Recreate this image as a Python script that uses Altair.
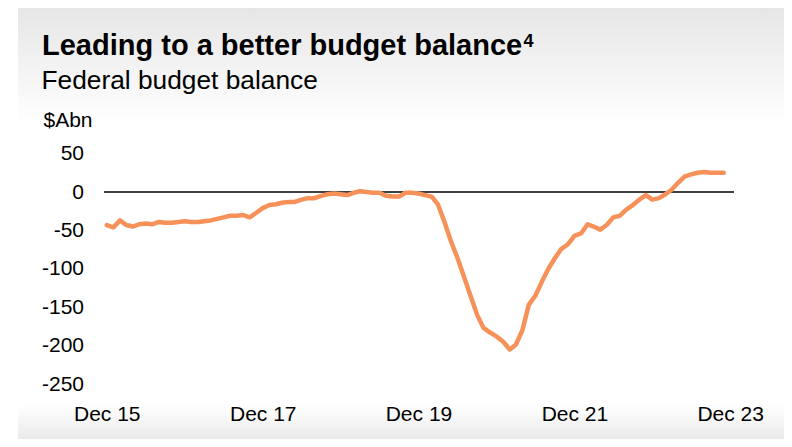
import altair as alt
import pandas as pd

# Federal budget balance, $A bn, monthly from Dec 2015 to Nov 2023
start_month = "2015-12-01"
balance = [
    -43, -46, -37, -43, -45, -42, -41, -42, -39, -40, -40, -39,
    -38, -39, -39, -38, -37, -35, -33, -31, -31, -30, -33, -27,
    -21, -17, -16, -14, -13, -13, -10, -8, -8, -5, -3, -2,
    -3, -4, -1, 1, 0, -1, -1, -5, -6, -6, -1, -1,
    -2, -4, -6, -16, -39, -64, -86, -110, -135, -160, -177, -183,
    -188, -195, -205, -199, -180, -147, -135, -117, -100, -86, -74, -68,
    -57, -54, -42, -45, -49, -43, -33, -31, -23, -17, -10, -4,
    -10, -8, -3, 3, 12, 20, 23, 25, 26, 25, 25, 25,
]
y_ticks = [50, 0, -50, -100, -150, -200, -250]
x_tick_years = [2015, 2017, 2019, 2021, 2023]

title_text = "Leading to a better budget balance"
footnote_text = "4"
subtitle_text = "Federal budget balance"
unit_text = "$Abn"

FONT = "Liberation Sans"
LINE_COLOR = "#F7915A"

df = pd.DataFrame({
    "date": pd.date_range(start_month, periods=len(balance), freq="MS"),
    "value": balance,
})
one = pd.DataFrame({"k": [0]})

W, H = 630, 230.4

x_scale = alt.Scale(domain=[alt.DateTime(year=2015, month=11, date=18),
                            alt.DateTime(year=2023, month=12, date=19)])
y_scale = alt.Scale(domain=[-250, 50], nice=False, zero=False)

y_axis = alt.Axis(values=y_ticks, title=unit_text, titleAngle=0, titleX=-61, titleY=-27,
                  titleAlign="left", titleBaseline="alphabetic", titleFont=FONT,
                  titleFontSize=21, titleFontWeight="normal", titleColor="#000000",
                  domain=False, ticks=False, grid=False,
                  labelExpr="datum.value < 0 ? '-' + abs(datum.value) : '' + datum.value",
                  labelFont=FONT, labelFontSize=21, labelColor="#000000",
                  labelOverlap=False, labelFlush=False,
                  labelPadding=20.5, labelBaseline="middle", zindex=1)

x_axis = alt.Axis(values=[alt.DateTime(year=y, month=12, date=1) for y in x_tick_years],
                  format="%b %y", title=None, domain=False, ticks=False, grid=False,
                  labelFont=FONT, labelFontSize=21, labelColor="#000000",
                  labelPadding=19, labelFlush=False, labelOverlap=False, zindex=1)

top_grad = alt.Chart(one).mark_rect(
    color=alt.Gradient(gradient="linear",
                       stops=[alt.GradientStop(color="#e6e6e6", offset=0),
                              alt.GradientStop(color="#ffffff", offset=1)],
                       x1=0, x2=0, y1=0, y2=1)
).encode(x=alt.value(-86), x2=alt.value(680), y=alt.value(-146), y2=alt.value(-30))

mid_rect = alt.Chart(one).mark_rect(color="#ffffff").encode(
    x=alt.value(-86), x2=alt.value(680), y=alt.value(-30.5), y2=alt.value(252))

bot_grad = alt.Chart(one).mark_rect(
    color=alt.Gradient(gradient="linear",
                       stops=[alt.GradientStop(color="#ffffff", offset=0),
                              alt.GradientStop(color="#eaeaea", offset=1)],
                       x1=0, x2=0, y1=0, y2=1)
).encode(x=alt.value(-86), x2=alt.value(680), y=alt.value(251), y2=alt.value(286))

zero_rule = alt.Chart(one).mark_rule(color="#000000", strokeWidth=1.5).encode(
    y=alt.Y(datum=0, type="quantitative", scale=y_scale, axis=y_axis))

line = alt.Chart(df).mark_line(color=LINE_COLOR, strokeWidth=4.5, strokeCap="round",
                               strokeJoin="round").encode(
    x=alt.X("date:T", scale=x_scale, axis=x_axis),
    y=alt.Y("value:Q", scale=y_scale, axis=y_axis),
)

title_mark = alt.Chart(one).mark_text(
    align="left", baseline="alphabetic", font=FONT, fontSize=29, fontWeight="bold",
    color="#000000").encode(x=alt.value(-62), y=alt.value(-98.6), text=alt.value(title_text))

footnote_mark = alt.Chart(one).mark_text(
    align="left", baseline="alphabetic", font=FONT, fontSize=18, fontWeight="bold",
    color="#000000").encode(x=alt.value(419.5), y=alt.value(-106.6), text=alt.value(footnote_text))

subtitle_mark = alt.Chart(one).mark_text(
    align="left", baseline="alphabetic", font=FONT, fontSize=26.3, fontWeight="normal",
    color="#000000").encode(x=alt.value(-62.5), y=alt.value(-64.5), text=alt.value(subtitle_text))

chart = alt.layer(top_grad, mid_rect, bot_grad, zero_rule, line,
                  title_mark, footnote_mark, subtitle_mark).properties(
    width=W, height=H,
    autosize=alt.AutoSizeParams(type="none"),
    padding={"left": 96, "top": 145.6, "right": 50, "bottom": 55},
    background="#ffffff",
).configure_view(stroke=None).configure_axis(labelOverlap=False)

chart.save("out.html", embed_options={"renderer": "svg", "actions": False})
